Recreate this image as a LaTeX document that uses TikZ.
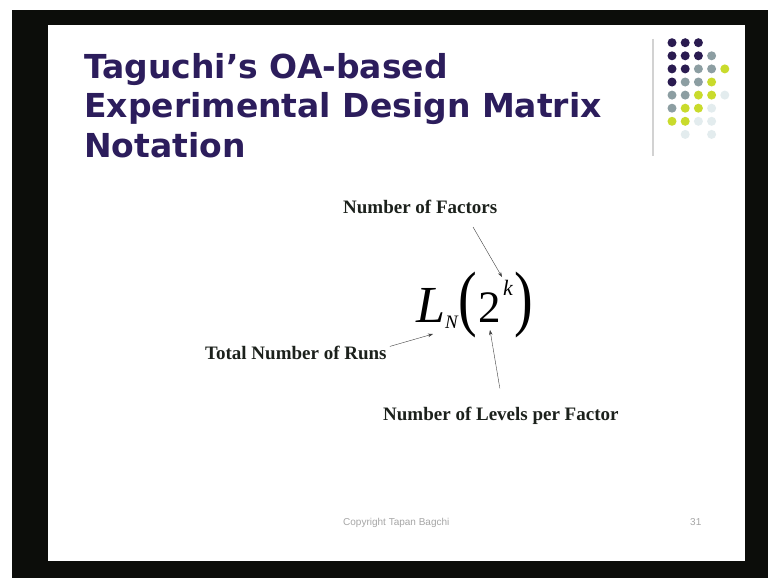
\documentclass[tikz,border=0pt]{standalone}
\usepackage{fontspec}
\setmainfont{Liberation Serif}
\newfontfamily\titlefont{DejaVu Sans}
\newfontfamily\footfont{Liberation Sans}
\usetikzlibrary{arrows.meta}
\definecolor{screen}{HTML}{0C0D0A}
\definecolor{titleink}{HTML}{2C1D5C}
\definecolor{dotdark}{HTML}{2A1B50}
\definecolor{dotgray}{HTML}{8C9EA2}
\definecolor{dotlime}{HTML}{C9DB2C}
\definecolor{dotpale}{HTML}{E3ECEE}
\definecolor{rulegray}{HTML}{D2D2D2}
\definecolor{labelink}{HTML}{1C211C}
\tikzset{
  titletext/.style={font=\titlefont\bfseries\fontsize{33}{40}\selectfont, text=titleink, anchor=base west},
  labeltext/.style={font=\bfseries\fontsize{19}{19}\selectfont, text=labelink, anchor=base west},
  pointer/.style={->, thin, draw=black!75},
}
\begin{document}
\begin{tikzpicture}[x=1pt, y=-1pt, >={Stealth[length=5pt,width=3.5pt]}, every node/.style={inner sep=0pt}]
    \useasboundingbox (0,0) rectangle (768,578);
    \fill[screen] (12,10) rectangle (768,578);
    \fill[white] (48,25) rectangle (745,561);
    % title
    \node[titletext] (title1) at (84,78)  {Taguchi’s OA-based};
    \node[titletext] (title2) at (84,117) {Experimental Design Matrix};
    \node[titletext] (title3) at (84,157) {Notation};
    % corner decoration
    \draw[line width=1.5pt, rulegray] (653,39) -- (653,156);
    \foreach \c/\r/\col in {0/0/dotdark, 1/0/dotdark, 2/0/dotdark,
                            0/1/dotdark, 1/1/dotdark, 2/1/dotdark, 3/1/dotgray,
                            0/2/dotdark, 1/2/dotdark, 2/2/dotgray, 3/2/dotgray, 4/2/dotlime,
                            0/3/dotdark, 1/3/dotgray, 2/3/dotgray, 3/3/dotlime,
                            0/4/dotgray, 1/4/dotgray, 2/4/dotlime, 3/4/dotlime, 4/4/dotpale,
                            0/5/dotgray, 1/5/dotlime, 2/5/dotlime, 3/5/dotpale,
                            0/6/dotlime, 1/6/dotlime, 2/6/dotpale, 3/6/dotpale,
                            1/7/dotpale, 3/7/dotpale} {
        \fill[\col] (672+13.2*\c, 42.7+13.1*\r) circle (4.5pt);
    }
    % notation
    \node[font=\fontsize{52}{52}\selectfont\itshape, anchor=base west] (Lsym) at (416,322) {L};
    \node[font=\fontsize{19}{19}\selectfont\itshape, anchor=base west] (Nsub) at (445,328) {N};
    \node[font=\fontsize{56}{56}\selectfont] (lparen) at (468,305) {\scalebox{1}[1.3]{(}};
    \node[font=\fontsize{45}{45}\selectfont, anchor=base west] (two) at (478,322) {2};
    \node[font=\fontsize{22}{22}\selectfont\itshape, anchor=base west] (kexp) at (503,295) {k};
    \node[font=\fontsize{56}{56}\selectfont] (rparen) at (524,305) {\scalebox{1}[1.3]{)}};
    % labels
    \node[labeltext] (factors) at (343,213) {Number of Factors};
    \node[labeltext] (runs)    at (205,359) {Total Number of Runs};
    \node[labeltext] (levels)  at (383,420) {Number of Levels per Factor};
    \coordinate (factorsFrom) at (473,227);
    \coordinate (factorsTip)  at (502,277);
    \coordinate (runsTip)     at (433,334);
    \coordinate (levelsTip)   at (490,330);
    \draw[pointer] (factorsFrom) -- (factorsTip);
    \draw[pointer] ([xshift=3pt, yshift=6pt]runs.east) -- (runsTip);
    \draw[pointer] ([xshift=-1pt, yshift=18pt]levels.north) -- (levelsTip);
    % footer
    \node[font=\footfont\fontsize{10}{10}\selectfont, text=black!35, anchor=base west] (copy) at (343,525) {Copyright Tapan Bagchi};
    \node[font=\footfont\fontsize{10}{10}\selectfont, text=black!35, anchor=base west] (pageno) at (690,525) {31};
\end{tikzpicture}
\end{document}
